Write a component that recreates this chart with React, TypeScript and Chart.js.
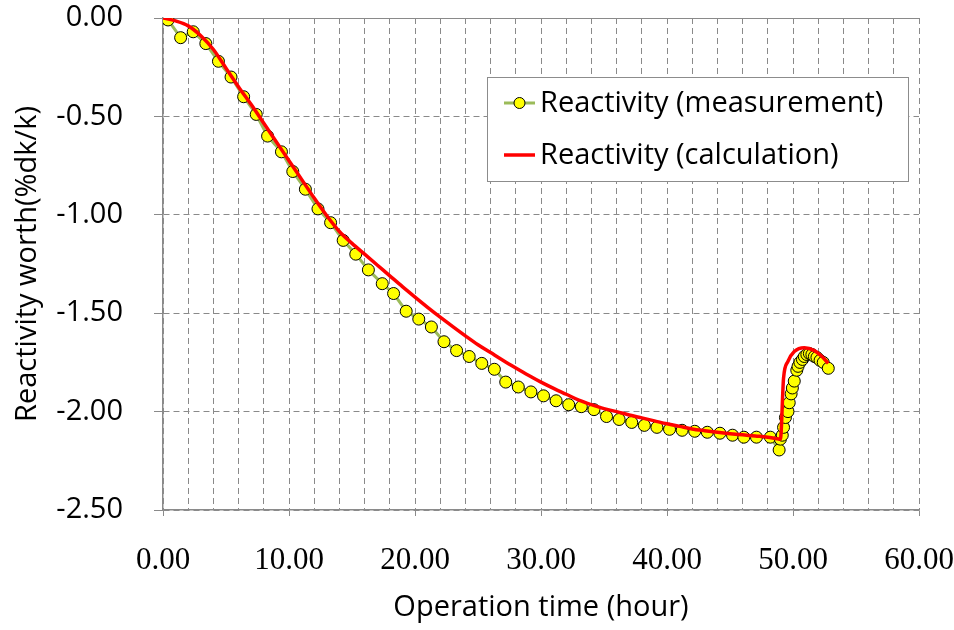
import React, { useEffect, useRef } from "react";
import { Chart, registerables } from "chart.js";

Chart.register(...registerables);

// ---- Data ----
const measTime = [
  0.0, 0.4, 1.4, 2.4, 3.4, 4.4, 5.4, 6.4, 7.4, 8.3, 9.4, 10.3, 11.3, 12.3, 13.3, 14.3,
  15.3, 16.3, 17.4, 18.3, 19.3, 20.3, 21.3, 22.3, 23.3, 24.3, 25.3, 26.3, 27.2, 28.2,
  29.2, 30.2, 31.2, 32.2, 33.2, 34.2, 35.2, 36.2, 37.2, 38.2, 39.2, 40.2, 41.2, 42.2,
  43.2, 44.2, 45.2, 46.1, 47.1, 48.2, 48.9, 49.0, 49.15, 49.25, 49.4, 49.6, 49.7, 49.85,
  49.95, 50.1, 50.3, 50.4, 50.55, 50.75, 50.9, 51.1, 51.3, 51.5, 51.7, 51.9, 52.15, 52.4,
  52.8,
];
const measValue = [
  0.0, -0.01, -0.1, -0.07, -0.13, -0.22, -0.3, -0.4, -0.49, -0.6, -0.68, -0.78, -0.87, -0.97,
  -1.04, -1.13, -1.2, -1.28, -1.35, -1.4, -1.49, -1.53, -1.57, -1.645, -1.69, -1.72, -1.755,
  -1.785, -1.85, -1.875, -1.9, -1.92, -1.945, -1.965, -1.975, -1.99, -2.025, -2.04, -2.055,
  -2.07, -2.08, -2.09, -2.095, -2.1, -2.105, -2.11, -2.12, -2.13, -2.13, -2.13, -2.195, -2.14,
  -2.12, -2.08, -2.03, -2.0, -1.955, -1.91, -1.88, -1.845, -1.79, -1.77, -1.75, -1.735, -1.72,
  -1.71, -1.705, -1.71, -1.72, -1.725, -1.74, -1.75, -1.78,
];

const calcTime = [
  0, 1, 2, 3, 4, 5, 6, 7, 8, 9, 10, 11, 12, 13, 14, 15, 16, 17, 18, 19, 20, 21, 22, 23, 24,
  25, 26, 27, 28, 29, 30, 31, 32, 33, 34, 35, 36, 37, 38, 39, 40, 41, 42, 43, 44, 45, 46, 47,
  48, 49, 49.25, 49.6, 50.1, 50.9, 51.7, 52.3, 52.8,
];
const calcValue = [
  0.0, -0.015, -0.04, -0.09, -0.16, -0.255, -0.35, -0.44, -0.535, -0.63, -0.725, -0.82, -0.915,
  -1.005, -1.085, -1.145, -1.2, -1.255, -1.31, -1.365, -1.418, -1.47, -1.52, -1.568, -1.615,
  -1.66, -1.7, -1.74, -1.778, -1.815, -1.85, -1.882, -1.912, -1.942, -1.965, -1.985, -2.0,
  -2.017, -2.032, -2.047, -2.062, -2.075, -2.088, -2.097, -2.105, -2.112, -2.118, -2.124,
  -2.13, -2.14, -1.83, -1.745, -1.695, -1.675, -1.69, -1.72, -1.755,
];

const measLabel = "Reactivity (measurement)";
const calcLabel = "Reactivity (calculation)";
const xTitle = "Operation time (hour)";
const yTitle = "Reactivity worth(%dk/k)";

const X_MIN = 0;
const X_MAX = 60;
const X_STEP = 2;
const X_LABEL_EVERY = 10;
const Y_MIN = -2.5;
const Y_MAX = 0;
const Y_STEP = 0.5;

const GRID_COLOR = "#8a8a8a";
const SANS = "'Open Sans', 'Noto Sans', sans-serif";
const SERIF = "'Liberation Serif', 'DejaVu Serif', serif";

const legendPlugin = {
  id: "boxLegend",
  afterDatasetsDraw(chart: any) {
    const ctx = chart.ctx as CanvasRenderingContext2D;
    const x0 = 487;
    const y0 = 77;
    const w = 421;
    const h = 104;
    ctx.save();
    ctx.fillStyle = "#ffffff";
    ctx.fillRect(x0, y0, w, h);
    ctx.strokeStyle = "#8c8c8c";
    ctx.lineWidth = 1;
    ctx.strokeRect(x0 + 0.5, y0 + 0.5, w, h);

    const ds = chart.data.datasets;
    const rows = [
      { y: 103, d: ds[1] },
      { y: 155, d: ds[0] },
    ];
    ctx.font = `29px ${SANS}`;
    ctx.textBaseline = "middle";
    ctx.textAlign = "left";
    for (const r of rows) {
      ctx.beginPath();
      ctx.strokeStyle = r.d.borderColor;
      ctx.lineWidth = r.d.borderWidth;
      ctx.moveTo(504, r.y);
      ctx.lineTo(535, r.y);
      ctx.stroke();
      if (r.d.pointRadius > 0) {
        ctx.beginPath();
        ctx.arc(519.5, r.y, 5.5, 0, Math.PI * 2);
        ctx.fillStyle = r.d.pointBackgroundColor;
        ctx.fill();
        ctx.lineWidth = 1;
        ctx.strokeStyle = r.d.pointBorderColor;
        ctx.stroke();
      }
      ctx.fillStyle = "#000";
      ctx.fillText(r.d.label, 540, r.y + 1);
    }
    ctx.restore();
  },
};

function zeroPadding(s: any) {
  s.paddingTop = 0;
  s.paddingBottom = 0;
  s.paddingLeft = 0;
  s.paddingRight = 0;
}

export default function App() {
  const ref = useRef<HTMLCanvasElement | null>(null);

  useEffect(() => {
    if (!ref.current) return;
    const meas = measTime.map((t, i) => ({ x: t, y: measValue[i] }));
    const calc = calcTime.map((t, i) => ({ x: t, y: calcValue[i] }));

    const chart = new Chart(ref.current, {
      type: "scatter",
      data: {
        datasets: [
          {
            label: calcLabel,
            data: calc,
            showLine: true,
            borderColor: "#ff0000",
            backgroundColor: "#ff0000",
            borderWidth: 3.5,
            pointRadius: 0,
            cubicInterpolationMode: "monotone",
            order: 0,
          } as any,
          {
            label: measLabel,
            data: meas,
            showLine: true,
            borderColor: "#9bbb59",
            backgroundColor: "#ffff00",
            borderWidth: 3,
            pointRadius: 6,
            pointBackgroundColor: "#ffff00",
            pointBorderColor: "#000000",
            pointBorderWidth: 1,
            tension: 0,
            order: 1,
          } as any,
        ],
      },
      options: {
        animation: false,
        responsive: false,
        maintainAspectRatio: false,
        layout: {
          autoPadding: false,
          padding: { top: 18, right: 35, bottom: 0, left: 0 },
        } as any,
        plugins: {
          legend: { display: false },
          tooltip: { enabled: false },
        },
        scales: {
          x: {
            type: "linear",
            min: X_MIN,
            max: X_MAX,
            afterFit: (s: any) => {
              s.height = 120;
              zeroPadding(s);
            },
            ticks: {
              stepSize: X_STEP,
              autoSkip: false,
              maxRotation: 0,
              minRotation: 0,
              padding: 26,
              color: "#000",
              font: { family: SERIF, size: 31 },
              callback: (v: any) =>
                Math.abs(Number(v) % X_LABEL_EVERY) < 1e-9 ? Number(v).toFixed(2) : "",
            },
            grid: {
              color: GRID_COLOR,
              lineWidth: 1,
              tickLength: 6,
              tickColor: (c: any) =>
                c.tick && Math.abs(c.tick.value % X_LABEL_EVERY) < 1e-9 ? GRID_COLOR : "rgba(0,0,0,0)",
            },
            border: {
              display: true,
              color: GRID_COLOR,
              width: 1.5,
              dash: [6, 4],
            },
            title: {
              display: true,
              text: xTitle,
              color: "#000",
              font: { family: SANS, size: 29, lineHeight: 1.2 },
              padding: { top: 0, bottom: 5 },
            },
          },
          y: {
            type: "linear",
            min: Y_MIN,
            max: Y_MAX,
            afterFit: (s: any) => {
              s.width = 163;
              zeroPadding(s);
            },
            ticks: {
              stepSize: Y_STEP,
              padding: 31,
              color: "#000",
              font: { family: SANS, size: 29 },
              callback: (v: any) => Number(v).toFixed(2),
            },
            grid: {
              color: GRID_COLOR,
              lineWidth: 1,
              tickLength: 9,
              tickColor: GRID_COLOR,
            },
            border: {
              display: true,
              color: GRID_COLOR,
              width: 1.5,
              dash: (c: any) => (c.tick && Math.abs(c.tick.value) < 1e-9 ? [] : [6, 4]),
            } as any,
            title: {
              display: true,
              text: yTitle,
              color: "#000",
              font: { family: SANS, size: 29, lineHeight: 1.2 },
              padding: { top: 10, bottom: 0 },
            },
          },
        },
      },
      plugins: [legendPlugin],
    });
    return () => chart.destroy();
  }, []);

  return (
    <div style={{ position: "absolute", left: 0, top: 0, width: 954, height: 630, background: "#fff" }}>
      <canvas ref={ref} width={954} height={630} style={{ display: "block" }} />
    </div>
  );
}
